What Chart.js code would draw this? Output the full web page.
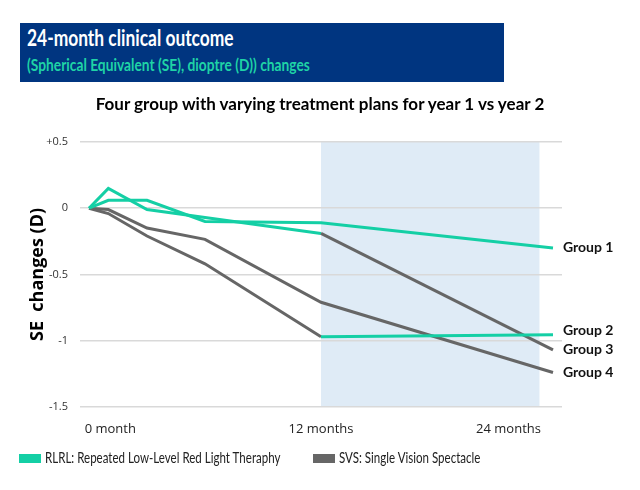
<!DOCTYPE html>
<html>
<head>
<meta charset="utf-8">
<script src="https://cdn.jsdelivr.net/npm/chart.js@4/dist/chart.umd.min.js"></script>
<style>
  html, body { margin: 0; padding: 0; background: #fff; }
  body { width: 640px; height: 490px; position: relative; overflow: hidden; font-family: Lato, sans-serif; }
  #banner { position: absolute; left: 20px; top: 23px; width: 484px; height: 59px; background: #003580; }
  #t1 { position: absolute; left: 7px; top: 2px; color: #fff; font: bold 22px Lato, sans-serif; line-height: 1.2; white-space: nowrap; transform-origin: left top; transform: scaleX(0.79); }
  #t2 { position: absolute; left: 7px; top: 32px; color: #1fd3a6; font: bold 17px Lato, sans-serif; line-height: 1.2; white-space: nowrap; transform-origin: left top; transform: scaleX(0.81); }
  #ctitle { position: absolute; left: 0; width: 640px; top: 94px; text-align: center; font: bold 17px Lato, sans-serif; line-height: 1.2; color: #000; }
  #wrap { position: absolute; left: 0; top: 0; width: 640px; height: 490px; }
  .leg { position: absolute; top: 450px; font: 15px Lato, sans-serif; color: #222; white-space: nowrap; }
  .sw { position: absolute; top: 4px; width: 22px; height: 9px; }
  .lt { position: absolute; left: 26px; top: -2px; transform-origin: left top; transform: scaleX(0.77); }
</style>
</head>
<body>
<div id="wrap"><canvas id="c" width="640" height="490"></canvas></div>
<div id="banner">
  <div id="t1">24-month clinical outcome</div>
  <div id="t2">(Spherical Equivalent (SE), dioptre (D)) changes</div>
</div>
<div id="ctitle">Four group with varying treatment plans for year 1 vs year 2</div>
<div class="leg" style="left:19px"><div class="sw" style="background:#14CFA5"></div><div class="lt">RLRL: Repeated Low-Level Red Light Theraphy</div></div>
<div class="leg" style="left:313px"><div class="sw" style="background:#666666"></div><div class="lt">SVS: Single Vision Spectacle</div></div>
<script>
// ---- data ----
const months = [0, 1, 3, 6, 12, 24];
const group1 = [0, 0.06, 0.06, -0.10, -0.11, -0.30];
const group2 = [0, -0.04, -0.21, -0.42, -0.97, -0.955];
const group3 = [0, 0.15, -0.01, -0.07, -0.19, -1.07];
const group4 = [0, -0.01, -0.15, -0.235, -0.71, -1.24];
const groupNames = ['Group 1', 'Group 2', 'Group 3', 'Group 4'];
const year1Treatment = ['RLRL', 'SVS', 'RLRL', 'SVS'];
const year2Treatment = ['RLRL', 'RLRL', 'SVS', 'SVS'];
const yTickValues = [-1.5, -1, -0.5, 0, 0.5];
const yTickLabels = ['-1.5', '-1', '-0.5', '0', '+0.5'];
const xTickValues = [1.1, 12, 21.7];
const xTickLabels = ['0 month', '12 months', '24 months'];
const year2Band = [12, 23.3];

const treatmentColor = { RLRL: '#14CFA5', SVS: '#666666' };
const allGroups = [group1, group2, group3, group4];

const datasets = allGroups.map((vals, i) => ({
  label: groupNames[i],
  data: months.map((m, j) => ({ x: m, y: vals[j] })),
  borderColor: treatmentColor[year1Treatment[i]],
  borderWidth: 3,
  pointRadius: 0,
  tension: 0,
  fill: false,
  segment: {
    borderColor: ctx => ctx.p0.parsed.x >= 12 ? treatmentColor[year2Treatment[i]] : treatmentColor[year1Treatment[i]]
  }
}));

const bandPlugin = {
  id: 'band',
  beforeDraw(chart) {
    const { ctx, chartArea, scales } = chart;
    const x0 = scales.x.getPixelForValue(year2Band[0]);
    const x1 = scales.x.getPixelForValue(year2Band[1]);
    ctx.save();
    ctx.fillStyle = '#DFEBF6';
    ctx.fillRect(x0, chartArea.top, x1 - x0, chartArea.bottom - chartArea.top);
    ctx.restore();
  }
};

const endLabelPlugin = {
  id: 'endLabels',
  afterDatasetsDraw(chart) {
    const { ctx } = chart;
    const items = chart.data.datasets.map((ds, i) => {
      const pts = chart.getDatasetMeta(i).data;
      const p = pts[pts.length - 1];
      return { text: ds.label, x: p.x, y: p.y };
    }).sort((a, b) => a.y - b.y);
    for (let k = items.length - 2; k >= 0; k--) {
      if (items[k + 1].y - items[k].y < 19) items[k].y = items[k + 1].y - 19;
    }
    ctx.save();
    ctx.font = 'bold 14px Lato, sans-serif';
    ctx.fillStyle = '#111';
    ctx.textBaseline = 'middle';
    ctx.textAlign = 'left';
    items.forEach(it => ctx.fillText(it.text, it.x + 10, it.y));
    ctx.restore();
  }
};

new Chart(document.getElementById('c'), {
  type: 'line',
  data: { datasets },
  options: {
    responsive: false,
    animation: false,
    layout: { padding: { left: 0, right: 78, top: 142, bottom: 37.5 } },
    plugins: { legend: { display: false }, tooltip: { enabled: false }, title: { display: false } },
    scales: {
      x: {
        type: 'linear',
        min: -0.466,
        max: 24.466,
        grid: { display: false, drawTicks: false },
        border: { display: false },
        afterBuildTicks: s => { s.ticks = xTickValues.map(v => ({ value: v })); },
        ticks: {
          padding: 15,
          font: { family: 'Open Sans', size: 13 },
          color: '#222',
          callback: (v) => { const i = xTickValues.indexOf(v); return i >= 0 ? xTickLabels[i] : ''; }
        }
      },
      y: {
        min: -1.5,
        max: 0.5,
        afterFit: s => { s.width = 80; },
        afterBuildTicks: s => { s.ticks = yTickValues.map(v => ({ value: v })); },
        grid: { color: '#D9D9D9', lineWidth: 1.5, drawTicks: false },
        border: { display: false },
        ticks: {
          padding: 12,
          font: { family: 'Open Sans', size: 11 },
          color: '#333',
          callback: (v) => { const i = yTickValues.indexOf(v); return i >= 0 ? yTickLabels[i] : ''; }
        },
        title: {
          display: true,
          text: 'SE  changes (D)',
          font: { family: 'Open Sans', size: 18, weight: 'bold' },
          color: '#000',
          padding: { top: 27.2, bottom: 0 }
        }
      }
    }
  },
  plugins: [bandPlugin, endLabelPlugin]
});
</script>
</body>
</html>
